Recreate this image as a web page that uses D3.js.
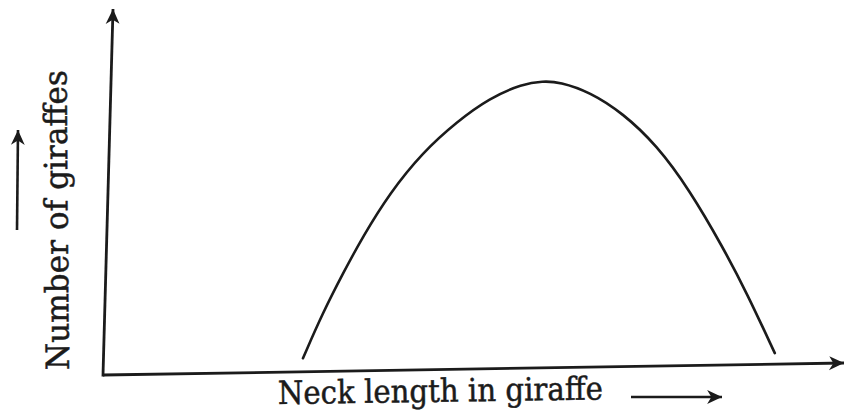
<!DOCTYPE html>
<html>
<head>
<meta charset="utf-8">
<script src="https://cdn.jsdelivr.net/npm/d3@7"></script>
<style>
  html, body { margin: 0; padding: 0; background: #ffffff; }
  svg { display: block; }
  text { font-family: "DejaVu Serif", "Liberation Serif", serif; fill: #1b1b1b; stroke: #1b1b1b; stroke-width: 0.5px; }
</style>
</head>
<body>
<script>
// Distribution of neck length among giraffes (arbitrary units, 0-100 on both axes)
const neckLength   = [26.9, 29.4, 32.0, 34.5, 38.0, 42.3, 46.8, 51.1, 55.5, 58.2,
                      60.5, 64.6, 69.1, 73.8, 78.4, 83.1, 86.5, 90.5];
const giraffeCount = [3.7, 16.0, 26.8, 36.6, 48.5, 59.5, 67.7, 74.0, 77.7, 78.4,
                      78.1, 75.2, 69.3, 60.4, 48.0, 32.2, 19.6, 3.0];

const xDomain = [0, 100];
const yDomain = [0, 100];

const xTitle = "Neck length in giraffe";
const yTitle = "Number of giraffes";

const width = 845, height = 412;
const innerW = 742, innerH = 366;
const ink = "#1b1b1b";

const svg = d3.select("body").append("svg")
  .attr("width", width).attr("height", height);

const defs = svg.append("defs");
defs.append("marker")
  .attr("id", "head")
  .attr("markerUnits", "userSpaceOnUse")
  .attr("viewBox", "0 0 16 16")
  .attr("markerWidth", 17).attr("markerHeight", 17)
  .attr("refX", 15).attr("refY", 8)
  .attr("orient", "auto")
  .append("path")
  .attr("d", "M1,1.5 L15,8 L1,14.5 L5,8 Z")
  .attr("fill", ink);

// Plot frame (slightly sheared, like a hand-set textbook figure)
const plot = svg.append("g")
  .attr("transform", "matrix(1,-0.01617,-0.02732,1,113,9)");

const x = d3.scaleLinear().domain(xDomain).range([0, innerW]);
const y = d3.scaleLinear().domain(yDomain).range([innerH, 0]);

// Axes drawn as arrows from the origin
plot.append("line")
  .attr("x1", x(0)).attr("y1", y(0))
  .attr("x2", x(xDomain[1]) - 1).attr("y2", y(0))
  .attr("stroke", ink).attr("stroke-width", 2.8)
  .attr("marker-end", "url(#head)");

plot.append("line")
  .attr("x1", x(0)).attr("y1", y(0) + 1.4)
  .attr("x2", x(0)).attr("y2", y(yDomain[1]))
  .attr("stroke", ink).attr("stroke-width", 2.8)
  .attr("marker-end", "url(#head)");

// Bell-shaped distribution curve
const pts = neckLength.map((d, i) => [d, giraffeCount[i]]);
const line = d3.line()
  .x(d => x(d[0]))
  .y(d => y(d[1]))
  .curve(d3.curveBasis);

plot.append("path")
  .datum(pts)
  .attr("d", line)
  .attr("fill", "none")
  .attr("stroke", ink)
  .attr("stroke-width", 2.6)
  .attr("stroke-linecap", "round");

// Axis titles with direction arrows
svg.append("text")
  .attr("transform", "translate(278,404) rotate(-0.8)")
  .attr("font-size", 32)
  .attr("textLength", 325)
  .attr("lengthAdjust", "spacingAndGlyphs")
  .text(xTitle);

svg.append("line")
  .attr("x1", 631).attr("y1", 397).attr("x2", 722).attr("y2", 397)
  .attr("stroke", ink).attr("stroke-width", 2.6)
  .attr("marker-end", "url(#head)");

svg.append("text")
  .attr("transform", "translate(69,370) rotate(-90.5)")
  .attr("font-size", 32)
  .attr("textLength", 300)
  .attr("lengthAdjust", "spacingAndGlyphs")
  .text(yTitle);

svg.append("line")
  .attr("x1", 17).attr("y1", 230).attr("x2", 18).attr("y2", 130)
  .attr("stroke", ink).attr("stroke-width", 2.6)
  .attr("marker-end", "url(#head)");
</script>
</body>
</html>
